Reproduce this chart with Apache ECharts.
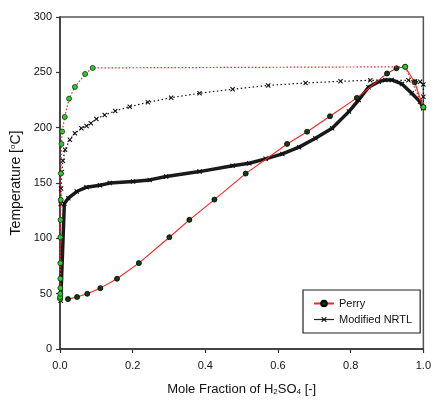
<!DOCTYPE html>
<html>
<head>
<meta charset="utf-8">
<script src="https://cdn.jsdelivr.net/npm/echarts@6/dist/echarts.min.js"></script>
<style>
  html, body { margin: 0; padding: 0; background: #fff; }
  #chart { width: 434px; height: 403px; }
</style>
</head>
<body>
<div id="chart"></div>
<script>
// Perry - liquid (solid red, dark dots)
var perryLiqX = [0.022, 0.047, 0.075, 0.111, 0.157, 0.217, 0.301, 0.356, 0.425, 0.511, 0.625, 0.680, 0.743, 0.817, 0.900, 0.926, 0.950, 0.976, 1.0];
var perryLiqT = [45.1, 47.0, 49.9, 55.0, 63.5, 77.6, 101.0, 116.7, 135.0, 158.5, 185.3, 196.3, 210.3, 226.9, 249.0, 253.7, 255.0, 241.0, 218.5];
// Perry - vapour (dotted red, green dots)
var perryVapX = [0.0, 0.0005, 0.0008, 0.001, 0.001, 0.001, 0.0012, 0.0015, 0.002, 0.0025, 0.004, 0.006, 0.013, 0.025, 0.041, 0.069, 0.090, 0.950, 1.0];
var perryVapT = [45.4, 47.0, 49.9, 55.1, 63.5, 77.6, 101.0, 116.7, 134.8, 158.5, 185.3, 196.5, 209.7, 226.2, 236.8, 248.5, 254.0, 255.0, 218.5];
// Modified NRTL - liquid (dense band)
var nrtlLiqX = [0.002, 0.012, 0.023, 0.046, 0.073, 0.110, 0.137, 0.201, 0.247, 0.292, 0.384, 0.475, 0.521, 0.566, 0.612, 0.658, 0.703, 0.749, 0.795, 0.822, 0.849, 0.877, 0.895, 0.913, 0.941, 0.968, 0.991, 1.0];
var nrtlLiqT = [43.5, 131.5, 136.3, 142.3, 146.2, 148.0, 149.9, 151.3, 152.8, 155.8, 160.3, 165.5, 167.9, 171.8, 176.3, 182.4, 190.5, 199.5, 214.5, 225.0, 236.5, 241.6, 243.1, 243.1, 239.5, 231.1, 223.5, 217.6];
// Modified NRTL - vapour (dotted black, x marks)
var nrtlVapX = [0.002, 0.003, 0.005, 0.008, 0.014, 0.027, 0.041, 0.059, 0.073, 0.085, 0.100, 0.123, 0.152, 0.192, 0.242, 0.306, 0.384, 0.475, 0.573, 0.676, 0.772, 0.854, 0.959, 0.977, 0.991, 1.0, 1.0, 1.0];
var nrtlVapT = [131.0, 145.0, 160.0, 170.0, 180.0, 189.0, 195.0, 199.5, 201.6, 204.0, 207.9, 211.5, 215.1, 219.0, 222.9, 227.1, 231.1, 234.7, 238.2, 240.4, 241.9, 242.8, 242.8, 241.9, 241.6, 239.0, 228.0, 218.0];

var xTicks = [0, 0.2, 0.4, 0.6, 0.8, 1.0];
var yTicks = [0, 50, 100, 150, 200, 250, 300];

function pairs(xs, ys) {
    return xs.map(function (x, i) { return [x, ys[i]]; });
}

var xMark = 'path://M0,1.5L1.5,0L5,3.5L8.5,0L10,1.5L6.5,5L10,8.5L8.5,10L5,6.5L1.5,10L0,8.5L3.5,5Z';

var dom = document.getElementById('chart');
var myChart = echarts.init(dom);
myChart.setOption({
    animation: false,
    grid: {
        left: 60,
        right: 9,
        top: 17,
        bottom: 54,
        show: true,
        borderColor: '#555',
        borderWidth: 1.5
    },
    legend: {
        orient: 'vertical',
        left: 303,
        top: 290,
        padding: [8, 8, 8, 10],
        itemWidth: 20,
        itemHeight: 7,
        itemGap: 5,
        borderColor: '#222',
        borderWidth: 1.2,
        textStyle: { fontFamily: 'Liberation Sans', fontSize: 11, color: '#111' },
        data: [
            { name: 'Perry' },
            { name: 'Modified NRTL', lineStyle: { width: 1.2, color: '#222' } }
        ]
    },
    xAxis: {
        type: 'value',
        min: 0,
        max: 1,
        interval: 0.2,
        name: 'Mole Fraction of H{sub|2}SO{sub|4} [-]',
        nameLocation: 'middle',
        nameGap: 33,
        nameTextStyle: {
            fontFamily: 'Liberation Sans', fontSize: 13, color: '#111',
            rich: { sub: { fontSize: 8, verticalAlign: 'bottom', padding: [6, 0, 0, 0] } }
        },
        axisLine: { show: true, lineStyle: { color: '#333', width: 1.5 } },
        axisTick: { show: true, inside: false, length: 4, lineStyle: { color: '#333', width: 1.2 } },
        axisLabel: {
            margin: 11, fontFamily: 'Liberation Sans', fontSize: 11, color: '#111',
            formatter: function (v) { return v.toFixed(1); }
        },
        splitLine: { show: false }
    },
    yAxis: {
        type: 'value',
        min: 0,
        max: 300,
        interval: 50,
        name: 'Temperature [{sup|o}C]',
        nameLocation: 'middle',
        nameGap: 32,
        nameTextStyle: {
            fontFamily: 'Liberation Sans', fontSize: 14, color: '#111',
            rich: { sup: { fontSize: 8, verticalAlign: 'top', padding: [0, 0, 6, 0] } }
        },
        axisLine: { show: true, lineStyle: { color: '#333', width: 1.5 } },
        axisTick: { show: true, inside: false, length: 4, lineStyle: { color: '#333', width: 1.2 } },
        axisLabel: { margin: 8, fontFamily: 'Liberation Sans', fontSize: 11, color: '#111' },
        splitLine: { show: false }
    },
    series: [
        {
            name: 'Modified NRTL',
            type: 'line',
            data: pairs(nrtlLiqX, nrtlLiqT),
            symbol: xMark,
            symbolSize: 5,
            showSymbol: true,
            itemStyle: { color: '#111' },
            lineStyle: { color: '#1a1a1a', width: 3.5 },
            z: 2
        },
        {
            name: 'NRTL vapour',
            type: 'line',
            data: pairs(nrtlVapX, nrtlVapT),
            symbol: xMark,
            symbolSize: 5,
            itemStyle: { color: '#111' },
            lineStyle: { color: '#111', width: 1.2, type: [1.5, 2.5] },
            z: 2
        },
        {
            name: 'Perry',
            type: 'line',
            data: pairs(perryLiqX, perryLiqT),
            symbol: 'circle',
            symbolSize: 5,
            itemStyle: { color: '#0f3d12', borderColor: '#000', borderWidth: 0.8 },
            lineStyle: { color: '#ff2020', width: 1.1 },
            z: 3
        },
        {
            name: 'Perry vapour',
            type: 'line',
            data: pairs(perryVapX, perryVapT),
            symbol: 'circle',
            symbolSize: 5,
            itemStyle: { color: '#2ecc2e', borderColor: '#103010', borderWidth: 0.8 },
            lineStyle: { color: '#ff2020', width: 1.2, type: [1.5, 2] },
            z: 4
        }
    ]
});
window.addEventListener('resize', function () {
    myChart.resize();
});
</script>
</body>
</html>
